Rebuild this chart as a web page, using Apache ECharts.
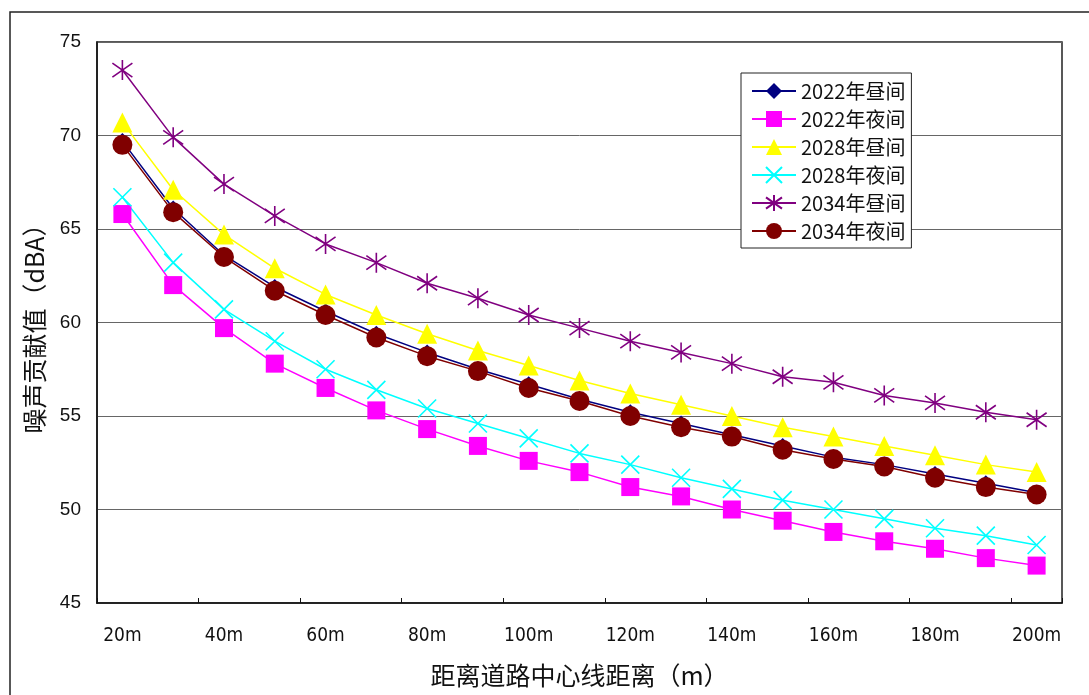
<!DOCTYPE html>
<html>
<head>
<meta charset="utf-8">
<script src="https://cdn.jsdelivr.net/npm/echarts@6/dist/echarts.min.js"></script>
<style>
  html, body { margin: 0; padding: 0; background: #fff; }
  #chart { width: 1089px; height: 695px; }
</style>
</head>
<body>
<div id="chart"></div>
<script>
// Distance from the road centre line (m)
const distances = ['20m','30m','40m','50m','60m','70m','80m','90m','100m','110m',
                   '120m','130m','140m','150m','160m','170m','180m','190m','200m'];

// Noise contribution values (dBA)
const day2022   = [69.7, 66.1, 63.6, 61.9, 60.6, 59.4, 58.4, 57.5, 56.7, 55.9, 55.2, 54.6, 54.0, 53.4, 52.8, 52.4, 51.9, 51.4, 50.9];
const night2022 = [65.8, 62.0, 59.7, 57.8, 56.5, 55.3, 54.3, 53.4, 52.6, 52.0, 51.2, 50.7, 50.0, 49.4, 48.8, 48.3, 47.9, 47.4, 47.0];
const day2028   = [70.7, 67.1, 64.7, 62.9, 61.5, 60.4, 59.4, 58.5, 57.7, 56.9, 56.2, 55.6, 55.0, 54.4, 53.9, 53.4, 52.9, 52.4, 52.0];
const night2028 = [66.7, 63.2, 60.7, 59.0, 57.5, 56.4, 55.4, 54.6, 53.8, 53.0, 52.4, 51.7, 51.1, 50.5, 50.0, 49.5, 49.0, 48.6, 48.1];
const day2034   = [73.5, 69.9, 67.4, 65.7, 64.2, 63.2, 62.1, 61.3, 60.4, 59.7, 59.0, 58.4, 57.8, 57.1, 56.8, 56.1, 55.7, 55.2, 54.8];
const night2034 = [69.5, 65.9, 63.5, 61.7, 60.4, 59.2, 58.2, 57.4, 56.5, 55.8, 55.0, 54.4, 53.9, 53.2, 52.7, 52.3, 51.7, 51.2, 50.8];

const yTicks = [45, 50, 55, 60, 65, 70, 75];

const crossPath = 'path://M-10,-10 L10,10 M-10,10 L10,-10';
const starPath  = 'path://M0,-10 L0,10 M-10,-7 L10,7 M-10,7 L10,-7';

function lineSeries(name, data, color, symbol, size, stroked) {
  return {
    name: name,
    type: 'line',
    data: data,
    symbol: symbol,
    symbolSize: size,
    showAllSymbol: true,
    lineStyle: { color: color, width: 1.5 },
    itemStyle: stroked
      ? { color: 'rgba(0,0,0,0)', borderColor: color, borderWidth: 1.6 }
      : { color: color, borderWidth: 0 },
    emphasis: { disabled: true },
    animation: false
  };
}

const chart = echarts.init(document.getElementById('chart'), null, { renderer: 'canvas' });

chart.setOption({
  backgroundColor: '#fff',
  animation: false,
  graphic: [{
    type: 'rect',
    shape: { x: 10, y: 12, width: 1100, height: 720 },
    style: { fill: 'none', stroke: '#222', lineWidth: 1.5 },
    silent: true,
    z: -1
  }],
  grid: {
    left: 97, top: 42, right: 27, bottom: 92,
    outerBoundsMode: 'none',
    show: true,
    borderColor: '#222',
    borderWidth: 1.5,
    containLabel: false
  },
  legend: {
    orient: 'vertical',
    left: 741,
    top: 73,
    backgroundColor: '#fff',
    borderColor: '#222',
    borderWidth: 1,
    borderRadius: 0,
    padding: [8, 6, 7, 10],
    itemWidth: 44,
    itemHeight: 20,
    itemGap: 8,
    textStyle: { fontFamily: '"Noto Sans CJK SC", sans-serif', fontSize: 20, lineHeight: 20, color: '#111' },
    data: ['2022年昼间', '2022年夜间', '2028年昼间', '2028年夜间', '2034年昼间', '2034年夜间']
  },
  xAxis: {
    type: 'category',
    data: distances,
    boundaryGap: true,
    name: '距离道路中心线距离（m）',
    nameLocation: 'middle',
    nameGap: 60,
    nameTextStyle: { fontFamily: '"Noto Sans CJK SC", sans-serif', fontSize: 25, color: '#111' },
    axisLine: { show: true, lineStyle: { color: '#111', width: 1.5 } },
    axisTick: { show: true, inside: true, length: 5, interval: 1, lineStyle: { color: '#111' } },
    axisLabel: {
      interval: 1,
      margin: 24,
      fontFamily: '"DejaVu Sans Condensed", "Liberation Sans Narrow", sans-serif',
      fontSize: 19,
      color: '#111'
    },
    splitLine: { show: false }
  },
  yAxis: {
    type: 'value',
    min: yTicks[0],
    max: yTicks[yTicks.length - 1],
    interval: 5,
    name: '噪声贡献值（dBA）',
    nameLocation: 'middle',
    nameGap: 50,
    nameRotate: 90,
    nameTextStyle: { fontFamily: '"Noto Sans CJK SC", sans-serif', fontSize: 25, color: '#111' },
    axisLine: { show: true, lineStyle: { color: '#111', width: 1.5 } },
    axisTick: { show: false },
    axisLabel: {
      margin: 16,
      fontFamily: '"Liberation Sans", Arial, sans-serif',
      fontSize: 19,
      color: '#111'
    },
    splitLine: { show: true, lineStyle: { color: '#666', width: 1 } }
  },
  series: [
    lineSeries('2022年昼间', day2022,   '#000080', 'diamond', 16, false),
    lineSeries('2022年夜间', night2022, '#ff00ff', 'rect',    18, false),
    lineSeries('2028年昼间', day2028,   '#ffff00', 'triangle', 20, false),
    lineSeries('2028年夜间', night2028, '#00ffff', crossPath,  18, true),
    lineSeries('2034年昼间', day2034,   '#800080', starPath,   20, true),
    lineSeries('2034年夜间', night2034, '#800000', 'circle',   20, false)
  ]
});
</script>
</body>
</html>
